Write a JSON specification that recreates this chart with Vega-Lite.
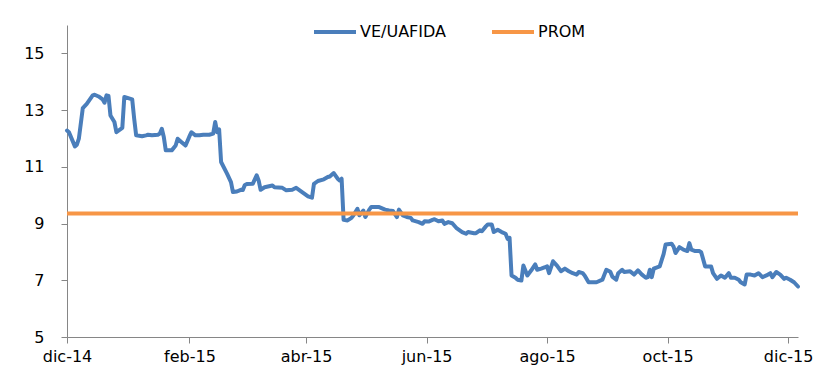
{
  "$schema": "https://vega.github.io/schema/vega-lite/v6.json",
  "width": 731,
  "height": 312,
  "autosize": {"type": "none"},
  "padding": {"left": 67, "top": 25, "right": 28, "bottom": 46},
  "background": "white",
  "config": {
    "view": {"stroke": null},
    "font": "DejaVu Sans",
    "axis": {
      "domainColor": "#868686",
      "tickColor": "#868686",
      "labelColor": "#000000",
      "labelFontSize": 16,
      "labelFont": "DejaVu Sans",
      "tickSize": 6,
      "grid": false,
      "title": null
    }
  },
  "layer": [
    {
      "data": {
        "values": [
          {"fecha": "2014-12-01", "valor": 12.28}, {"fecha": "2014-12-02", "valor": 12.22}, {"fecha": "2014-12-05", "valor": 11.72}, {"fecha": "2014-12-06", "valor": 11.78}, {"fecha": "2014-12-07", "valor": 11.99}, {"fecha": "2014-12-09", "valor": 13.07}, {"fecha": "2014-12-11", "valor": 13.22}, {"fecha": "2014-12-14", "valor": 13.52}, {"fecha": "2014-12-15", "valor": 13.54}, {"fecha": "2014-12-17", "valor": 13.48}, {"fecha": "2014-12-19", "valor": 13.38}, {"fecha": "2014-12-20", "valor": 13.26}, {"fecha": "2014-12-21", "valor": 13.52}, {"fecha": "2014-12-22", "valor": 13.50}, {"fecha": "2014-12-23", "valor": 12.81}, {"fecha": "2014-12-25", "valor": 12.58}, {"fecha": "2014-12-26", "valor": 12.22}, {"fecha": "2014-12-29", "valor": 12.37}, {"fecha": "2014-12-30", "valor": 13.46},
          {"fecha": "2015-01-01", "valor": 13.42}, {"fecha": "2015-01-03", "valor": 13.38}, {"fecha": "2015-01-04", "valor": 12.70}, {"fecha": "2015-01-05", "valor": 12.11}, {"fecha": "2015-01-08", "valor": 12.08}, {"fecha": "2015-01-10", "valor": 12.11}, {"fecha": "2015-01-11", "valor": 12.13}, {"fecha": "2015-01-13", "valor": 12.11}, {"fecha": "2015-01-16", "valor": 12.13}, {"fecha": "2015-01-17", "valor": 12.17}, {"fecha": "2015-01-18", "valor": 12.34}, {"fecha": "2015-01-19", "valor": 12.05}, {"fecha": "2015-01-20", "valor": 11.58}, {"fecha": "2015-01-23", "valor": 11.58}, {"fecha": "2015-01-25", "valor": 11.75}, {"fecha": "2015-01-26", "valor": 11.99}, {"fecha": "2015-01-28", "valor": 11.87}, {"fecha": "2015-01-30", "valor": 11.75},
          {"fecha": "2015-02-01", "valor": 12.08}, {"fecha": "2015-02-02", "valor": 12.22}, {"fecha": "2015-02-04", "valor": 12.11}, {"fecha": "2015-02-06", "valor": 12.11}, {"fecha": "2015-02-08", "valor": 12.13}, {"fecha": "2015-02-11", "valor": 12.13}, {"fecha": "2015-02-13", "valor": 12.17}, {"fecha": "2015-02-14", "valor": 12.58}, {"fecha": "2015-02-15", "valor": 12.22}, {"fecha": "2015-02-16", "valor": 12.32}, {"fecha": "2015-02-17", "valor": 11.17}, {"fecha": "2015-02-20", "valor": 10.76}, {"fecha": "2015-02-22", "valor": 10.46}, {"fecha": "2015-02-23", "valor": 10.11}, {"fecha": "2015-02-25", "valor": 10.13}, {"fecha": "2015-02-27", "valor": 10.19}, {"fecha": "2015-02-28", "valor": 10.18},
          {"fecha": "2015-03-01", "valor": 10.36}, {"fecha": "2015-03-02", "valor": 10.39}, {"fecha": "2015-03-05", "valor": 10.40}, {"fecha": "2015-03-07", "valor": 10.70}, {"fecha": "2015-03-08", "valor": 10.52}, {"fecha": "2015-03-09", "valor": 10.19}, {"fecha": "2015-03-11", "valor": 10.28}, {"fecha": "2015-03-15", "valor": 10.34}, {"fecha": "2015-03-16", "valor": 10.28}, {"fecha": "2015-03-20", "valor": 10.26}, {"fecha": "2015-03-22", "valor": 10.17}, {"fecha": "2015-03-25", "valor": 10.19}, {"fecha": "2015-03-27", "valor": 10.26}, {"fecha": "2015-03-30", "valor": 10.11},
          {"fecha": "2015-04-02", "valor": 9.96}, {"fecha": "2015-04-04", "valor": 9.91}, {"fecha": "2015-04-05", "valor": 10.40}, {"fecha": "2015-04-07", "valor": 10.50}, {"fecha": "2015-04-10", "valor": 10.56}, {"fecha": "2015-04-12", "valor": 10.64}, {"fecha": "2015-04-13", "valor": 10.66}, {"fecha": "2015-04-15", "valor": 10.78}, {"fecha": "2015-04-17", "valor": 10.58}, {"fecha": "2015-04-18", "valor": 10.52}, {"fecha": "2015-04-19", "valor": 10.58}, {"fecha": "2015-04-20", "valor": 9.13}, {"fecha": "2015-04-22", "valor": 9.11}, {"fecha": "2015-04-24", "valor": 9.20}, {"fecha": "2015-04-25", "valor": 9.29}, {"fecha": "2015-04-27", "valor": 9.52}, {"fecha": "2015-04-28", "valor": 9.29}, {"fecha": "2015-04-30", "valor": 9.46},
          {"fecha": "2015-05-01", "valor": 9.23}, {"fecha": "2015-05-03", "valor": 9.49}, {"fecha": "2015-05-04", "valor": 9.58}, {"fecha": "2015-05-06", "valor": 9.58}, {"fecha": "2015-05-08", "valor": 9.58}, {"fecha": "2015-05-11", "valor": 9.49}, {"fecha": "2015-05-13", "valor": 9.46}, {"fecha": "2015-05-15", "valor": 9.44}, {"fecha": "2015-05-17", "valor": 9.23}, {"fecha": "2015-05-18", "valor": 9.49}, {"fecha": "2015-05-20", "valor": 9.29}, {"fecha": "2015-05-22", "valor": 9.23}, {"fecha": "2015-05-24", "valor": 9.20}, {"fecha": "2015-05-25", "valor": 9.11}, {"fecha": "2015-05-28", "valor": 9.05}, {"fecha": "2015-05-30", "valor": 8.99}, {"fecha": "2015-05-31", "valor": 9.08},
          {"fecha": "2015-06-02", "valor": 9.07}, {"fecha": "2015-06-04", "valor": 9.13}, {"fecha": "2015-06-05", "valor": 9.15}, {"fecha": "2015-06-07", "valor": 9.08}, {"fecha": "2015-06-09", "valor": 9.11}, {"fecha": "2015-06-10", "valor": 8.99}, {"fecha": "2015-06-12", "valor": 9.05}, {"fecha": "2015-06-14", "valor": 9.01}, {"fecha": "2015-06-16", "valor": 8.85}, {"fecha": "2015-06-19", "valor": 8.70}, {"fecha": "2015-06-21", "valor": 8.64}, {"fecha": "2015-06-22", "valor": 8.70}, {"fecha": "2015-06-25", "valor": 8.66}, {"fecha": "2015-06-26", "valor": 8.66}, {"fecha": "2015-06-28", "valor": 8.76}, {"fecha": "2015-06-29", "valor": 8.73},
          {"fecha": "2015-07-01", "valor": 8.90}, {"fecha": "2015-07-02", "valor": 8.97}, {"fecha": "2015-07-04", "valor": 8.97}, {"fecha": "2015-07-05", "valor": 8.70}, {"fecha": "2015-07-07", "valor": 8.78}, {"fecha": "2015-07-09", "valor": 8.70}, {"fecha": "2015-07-11", "valor": 8.64}, {"fecha": "2015-07-12", "valor": 8.46}, {"fecha": "2015-07-13", "valor": 8.50}, {"fecha": "2015-07-14", "valor": 7.17}, {"fecha": "2015-07-16", "valor": 7.09}, {"fecha": "2015-07-17", "valor": 7.02}, {"fecha": "2015-07-19", "valor": 6.99}, {"fecha": "2015-07-20", "valor": 7.52}, {"fecha": "2015-07-22", "valor": 7.17}, {"fecha": "2015-07-24", "valor": 7.35}, {"fecha": "2015-07-26", "valor": 7.56}, {"fecha": "2015-07-27", "valor": 7.37}, {"fecha": "2015-07-29", "valor": 7.41}, {"fecha": "2015-07-31", "valor": 7.46},
          {"fecha": "2015-08-01", "valor": 7.49}, {"fecha": "2015-08-02", "valor": 7.25}, {"fecha": "2015-08-04", "valor": 7.67}, {"fecha": "2015-08-06", "valor": 7.52}, {"fecha": "2015-08-08", "valor": 7.32}, {"fecha": "2015-08-10", "valor": 7.41}, {"fecha": "2015-08-12", "valor": 7.32}, {"fecha": "2015-08-14", "valor": 7.25}, {"fecha": "2015-08-16", "valor": 7.20}, {"fecha": "2015-08-17", "valor": 7.29}, {"fecha": "2015-08-19", "valor": 7.25}, {"fecha": "2015-08-20", "valor": 7.17}, {"fecha": "2015-08-22", "valor": 6.93}, {"fecha": "2015-08-24", "valor": 6.93}, {"fecha": "2015-08-26", "valor": 6.93}, {"fecha": "2015-08-29", "valor": 7.02}, {"fecha": "2015-08-30", "valor": 7.20}, {"fecha": "2015-08-31", "valor": 7.37},
          {"fecha": "2015-09-02", "valor": 7.30}, {"fecha": "2015-09-03", "valor": 7.13}, {"fecha": "2015-09-05", "valor": 7.02}, {"fecha": "2015-09-06", "valor": 7.25}, {"fecha": "2015-09-08", "valor": 7.37}, {"fecha": "2015-09-09", "valor": 7.29}, {"fecha": "2015-09-12", "valor": 7.32}, {"fecha": "2015-09-14", "valor": 7.20}, {"fecha": "2015-09-16", "valor": 7.35}, {"fecha": "2015-09-18", "valor": 7.20}, {"fecha": "2015-09-20", "valor": 7.09}, {"fecha": "2015-09-21", "valor": 7.11}, {"fecha": "2015-09-22", "valor": 7.37}, {"fecha": "2015-09-23", "valor": 7.11}, {"fecha": "2015-09-24", "valor": 7.41}, {"fecha": "2015-09-25", "valor": 7.44}, {"fecha": "2015-09-27", "valor": 7.49}, {"fecha": "2015-09-29", "valor": 7.93}, {"fecha": "2015-09-30", "valor": 8.26},
          {"fecha": "2015-10-03", "valor": 8.29}, {"fecha": "2015-10-04", "valor": 8.19}, {"fecha": "2015-10-05", "valor": 7.96}, {"fecha": "2015-10-07", "valor": 8.17}, {"fecha": "2015-10-09", "valor": 8.08}, {"fecha": "2015-10-11", "valor": 8.03}, {"fecha": "2015-10-12", "valor": 8.31}, {"fecha": "2015-10-13", "valor": 8.08}, {"fecha": "2015-10-15", "valor": 8.03}, {"fecha": "2015-10-17", "valor": 8.03}, {"fecha": "2015-10-18", "valor": 7.99}, {"fecha": "2015-10-20", "valor": 7.49}, {"fecha": "2015-10-22", "valor": 7.49}, {"fecha": "2015-10-23", "valor": 7.49}, {"fecha": "2015-10-24", "valor": 7.25}, {"fecha": "2015-10-26", "valor": 7.05}, {"fecha": "2015-10-28", "valor": 7.17}, {"fecha": "2015-10-30", "valor": 7.09},
          {"fecha": "2015-11-01", "valor": 7.25}, {"fecha": "2015-11-02", "valor": 7.09}, {"fecha": "2015-11-04", "valor": 7.09}, {"fecha": "2015-11-06", "valor": 7.02}, {"fecha": "2015-11-07", "valor": 6.93}, {"fecha": "2015-11-09", "valor": 6.85}, {"fecha": "2015-11-10", "valor": 7.20}, {"fecha": "2015-11-12", "valor": 7.20}, {"fecha": "2015-11-14", "valor": 7.17}, {"fecha": "2015-11-16", "valor": 7.25}, {"fecha": "2015-11-18", "valor": 7.11}, {"fecha": "2015-11-20", "valor": 7.17}, {"fecha": "2015-11-22", "valor": 7.25}, {"fecha": "2015-11-23", "valor": 7.11}, {"fecha": "2015-11-25", "valor": 7.29}, {"fecha": "2015-11-27", "valor": 7.20}, {"fecha": "2015-11-29", "valor": 7.05}, {"fecha": "2015-11-30", "valor": 7.09},
          {"fecha": "2015-12-02", "valor": 7.02}, {"fecha": "2015-12-04", "valor": 6.93}, {"fecha": "2015-12-06", "valor": 6.78}
        ]
      },
      "mark": {"type": "line", "strokeWidth": 4, "strokeJoin": "round", "strokeCap": "round"},
      "encoding": {
        "x": {
          "field": "fecha",
          "type": "temporal",
          "scale": {
            "type": "utc",
            "domain": [
              {"year": 2014, "month": 12, "date": 1, "utc": true},
              {"year": 2015, "month": 12, "date": 6, "utc": true}
            ]
          },
          "axis": {
            "values": [
              {"year": 2014, "month": 12, "date": 1, "utc": true},
              {"year": 2015, "month": 2, "date": 1, "utc": true},
              {"year": 2015, "month": 4, "date": 1, "utc": true},
              {"year": 2015, "month": 6, "date": 1, "utc": true},
              {"year": 2015, "month": 8, "date": 1, "utc": true},
              {"year": 2015, "month": 10, "date": 1, "utc": true},
              {"year": 2015, "month": 12, "date": 1, "utc": true}
            ],
            "labelExpr": "['ene','feb','mar','abr','may','jun','jul','ago','sep','oct','nov','dic'][utcmonth(datum.value)] + '-' + utcFormat(datum.value, '%y')",
            "labelPadding": 5,
            "labelFlush": false,
            "labelOverlap": false
          }
        },
        "y": {
          "field": "valor",
          "type": "quantitative",
          "scale": {"domain": [5, 16], "nice": false, "zero": false},
          "axis": {"values": [5, 7, 9, 11, 13, 15], "labelPadding": 17}
        },
        "color": {
          "datum": "VE/UAFIDA",
          "type": "nominal",
          "title": null,
          "scale": {"domain": ["VE/UAFIDA", "PROM"], "range": ["#4A7EBB", "#F79646"]},
          "legend": {
            "title": null,
            "orient": "none",
            "legendX": 245,
            "legendY": -16,
            "direction": "horizontal",
            "symbolType": "stroke",
            "symbolStrokeWidth": 4,
            "symbolSize": 1764,
            "labelFontSize": 16,
            "labelFont": "DejaVu Sans",
            "labelColor": "#000000",
            "labelOffset": 2,
            "columnPadding": 37
          }
        }
      }
    },
    {
      "data": {"values": [{"serie": "PROM", "valor": 9.35}]},
      "mark": {"type": "rule", "strokeWidth": 4},
      "encoding": {
        "y": {"field": "valor", "type": "quantitative"},
        "color": {"field": "serie", "type": "nominal", "title": null}
      }
    }
  ]
}
